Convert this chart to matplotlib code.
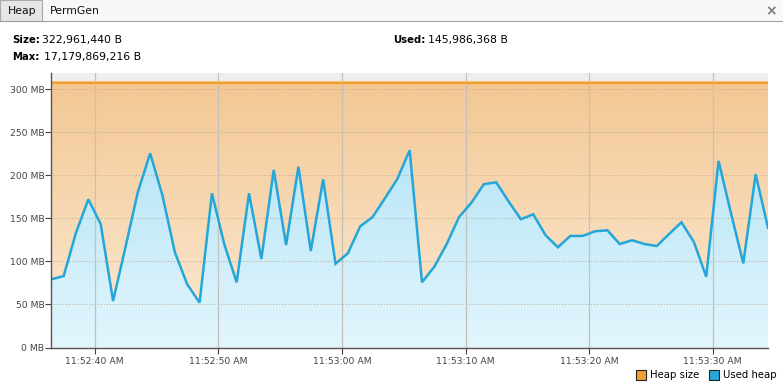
import numpy as np
import pandas as pd
import matplotlib
matplotlib.use('Agg')
import matplotlib.pyplot as plt
import matplotlib.dates as mdates
from matplotlib.colors import LinearSegmentedColormap
from matplotlib.patches import Rectangle

# dados (MiB), uma amostra por segundo
used_heap = [79.3, 83.1, 133.5, 172.3, 143.3, 54.1, 116.5, 180.5, 225.8, 176.5,
             110.7, 73.5, 52.1, 179.3, 120.0, 75.8, 179.3, 102.9, 206.4, 119.2,
             210.2, 112.2, 195.6, 97.4, 109.5, 140.9, 151.7, 173.5, 195.9, 229.3,
             75.8, 94.0, 120.3, 151.7, 168.4, 189.8, 192.1, 170.0, 149.1, 154.9,
             130.5, 116.5, 129.7, 129.7, 135.1, 136.3, 120.3, 124.7, 120.3, 118.0,
             132.0, 145.6, 122.7, 82.3, 216.9, 156.4, 97.9, 201.4, 139.2]
heap_size = 308.0
times = pd.date_range('2024-01-01 11:52:36.480', periods=len(used_heap), freq='1s')
y_ticks = [0, 50, 100, 150, 200, 250, 300]
y_labels = ['%d MB' % v for v in y_ticks]

size_txt = '322,961,440 B'
max_txt = '17,179,869,216 B'
used_txt = '145,986,368 B'

fig = plt.figure(figsize=(7.83, 3.89), dpi=100)
fig.patch.set_facecolor('white')

# barra de abas
W, H = 783.0, 389.0
def px(x, y, w, h):
    return (x / W, 1 - (y + h) / H, w / W, h / H)

fig.add_artist(Rectangle(px(0, 0, 783, 21)[:2], 1, 21 / H, transform=fig.transFigure,
                         facecolor='#F8F8F8', edgecolor='none'))
b = px(0, 0, 42, 21)
fig.add_artist(Rectangle(b[:2], b[2], b[3], transform=fig.transFigure,
                         facecolor='#E6E6E6', edgecolor='#A8A8A8', lw=0.8))
fig.add_artist(plt.Line2D([0, 1], [1 - 21 / H, 1 - 21 / H], transform=fig.transFigure,
                          color='#A0A0A0', lw=0.8))
fig.text(8 / W, 1 - 11 / H, 'Heap', fontsize=7.8, va='center', ha='left', color='#111111')
fig.text(50 / W, 1 - 11 / H, 'PermGen', fontsize=7.8, va='center', ha='left', color='#111111')
fig.text(771 / W, 1 - 11 / H, '\u00d7', fontsize=10, va='center', ha='center',
         color='#777777', fontweight='bold')

# cabecalho
fs = 7.8
fig.text(12 / W, 1 - 40 / H, 'Size:', fontsize=7.3, fontweight='bold', va='center')
fig.text(42 / W, 1 - 40 / H, size_txt, fontsize=fs, va='center')
fig.text(12 / W, 1 - 57 / H, 'Max:', fontsize=7.3, fontweight='bold', va='center')
fig.text(44 / W, 1 - 57 / H, max_txt, fontsize=fs, va='center')
fig.text(393 / W, 1 - 40 / H, 'Used:', fontsize=7.3, fontweight='bold', va='center')
fig.text(428 / W, 1 - 40 / H, used_txt, fontsize=fs, va='center')

ax = fig.add_axes([51.3 / W, 1 - 347.5 / H, (768 - 51.3) / W, (347.5 - 73.3) / H])
ax.set_facecolor('#EFEFEF')

x = mdates.date2num(times)
x0, x1 = x[0], x[-1]
ytop = 318.8

orange = LinearSegmentedColormap.from_list('o', ['#FCEBD5', '#F3C793'])
blue = LinearSegmentedColormap.from_list('b', ['#E2F6FD', '#A9DFF5'])
grad = np.linspace(0, 1, 256).reshape(-1, 1)

ax.imshow(grad, extent=[x0, x1, 0, heap_size], origin='lower', aspect='auto',
          cmap=orange, zorder=1)
poly = ax.fill_between(x, used_heap, 0, color='none', lw=0)
im = ax.imshow(grad, extent=[x0, x1, 0, heap_size], origin='lower', aspect='auto',
               cmap=blue, zorder=2)
im.set_clip_path(poly.get_paths()[0], transform=ax.transData)

ax.plot([x0, x1], [heap_size, heap_size], color='#F7C27A', lw=3, zorder=4)
ax.plot([x0, x1], [heap_size, heap_size], color='#EF9A35', lw=1.4, zorder=4)
ax.plot(x, used_heap, color='#25A6D8', lw=1.8, zorder=5, solid_joinstyle='miter')

ax.set_xlim(x0, x1)
ax.set_ylim(0, ytop)
ax.set_yticks(y_ticks)
ax.set_yticklabels(y_labels)

ax.xaxis.set_major_locator(mdates.SecondLocator(bysecond=[0, 10, 20, 30, 40, 50]))
ax.xaxis.set_major_formatter(mdates.DateFormatter('%-I:%M:%S %p'))

for v in y_ticks[1:]:
    ax.axhline(v, color='#B8A890', lw=0.7, ls=(0, (1, 2)), zorder=3)
for t in ax.get_xticks():
    ax.axvline(t, color='#C4C0BC', lw=0.9, zorder=3)

ax.tick_params(axis='both', labelsize=6.7, colors='#444444', length=4, width=0.8)
ax.tick_params(axis='y', pad=1)
ax.tick_params(axis='x', pad=3)
for s in ['top', 'right']:
    ax.spines[s].set_visible(False)
for s in ['left', 'bottom']:
    ax.spines[s].set_color('#555555')
    ax.spines[s].set_linewidth(1)
    ax.spines[s].set_zorder(6)

# legenda
for sx, col, lbl in [(636, '#F5A030', 'Heap size'), (709, '#27A6D9', 'Used heap')]:
    r = px(sx, 370, 10, 10)
    fig.add_artist(Rectangle(r[:2], r[2], r[3], transform=fig.transFigure,
                             facecolor=col, edgecolor='#222222', lw=0.8))
    fig.text((sx + 14) / W, 1 - 375 / H, lbl, fontsize=7.3, va='center', ha='left')

fig.savefig('out.png', dpi=100)
